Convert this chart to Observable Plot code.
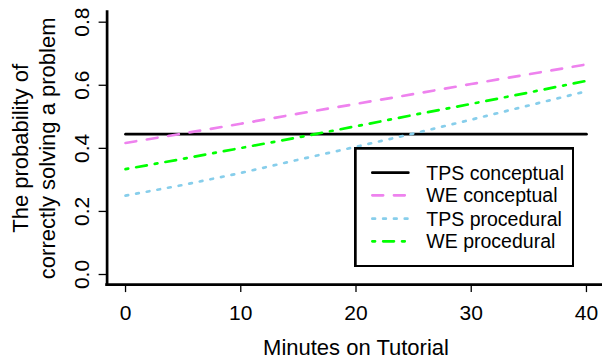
<!DOCTYPE html>
<html>
<head>
<meta charset="utf-8">
<script src="https://cdn.jsdelivr.net/npm/d3@7"></script>
<script src="https://cdn.jsdelivr.net/npm/@observablehq/plot@0.6"></script>
<style>
  html, body { margin: 0; padding: 0; background: #fff; }
  #wrap { position: relative; width: 602px; height: 360px; overflow: hidden; font-family: "Liberation Sans", Arial, sans-serif; }
  #legend { position: absolute; left: 353.65px; top: 146.65px; }
</style>
</head>
<body>
<div id="wrap"></div>
<script>
// ---- data ----
const minutes = [0, 5, 10, 15, 20, 25, 30, 35, 40];
const tpsConceptual = [0.445, 0.445, 0.445, 0.445, 0.445, 0.445, 0.445, 0.445, 0.445];
const weConceptual  = [0.417, 0.447, 0.478, 0.510, 0.541, 0.572, 0.604, 0.635, 0.666];
const tpsProcedural = [0.250, 0.284, 0.322, 0.364, 0.405, 0.447, 0.491, 0.536, 0.581];
const weProcedural  = [0.334, 0.367, 0.401, 0.435, 0.470, 0.506, 0.541, 0.577, 0.614];
const seriesNames = ["TPS conceptual", "WE conceptual", "TPS procedural", "WE procedural"];
const xTicks = [0, 10, 20, 30, 40];
const yTicks = [0, 0.2, 0.4, 0.6, 0.8];
const yTickLabels = ["0.0", "0.2", "0.4", "0.6", "0.8"];
const xLabel = "Minutes on Tutorial";
const yLabel = "The probability of\ncorrectly solving a problem";

// ---- styles (R lty patterns scaled by line width) ----
const LW = 2.7;
const styles = [
  {stroke: "black",   dash: null},
  {stroke: "violet",  dash: `${LW * 4} ${LW * 4}`},
  {stroke: "skyblue", dash: `${LW * 1} ${LW * 3}`},
  {stroke: "#00ff00", dash: `${LW * 1} ${LW * 3} ${LW * 4} ${LW * 3}`}
];
const seriesValues = [tpsConceptual, weConceptual, tpsProcedural, weProcedural];

const tables = seriesValues.map((vals, i) =>
  minutes.map((m, j) => ({series: seriesNames[i], minute: m, p: vals[j]})));

const xDomain = [-1.6, 41.6];
const yDomain = [-0.032, 0.832];
const FONT = "'Liberation Sans', Arial, sans-serif";

const lineMarks = tables.map((t, i) => Plot.line(t, {
  x: "minute", y: "p",
  stroke: styles[i].stroke,
  strokeWidth: LW,
  strokeLinecap: "round",
  strokeLinejoin: "round",
  strokeDasharray: styles[i].dash || undefined
}));

const chart = Plot.plot({
  width: 602,
  height: 360,
  marginLeft: 106.6,
  marginRight: -2.4,
  marginTop: 11.6,
  marginBottom: 75.9,
  x: {domain: xDomain, range: [106.6, 604.4]},
  y: {domain: yDomain, range: [284.1, 11.6]},
  style: {fontFamily: FONT, background: "white", color: "black", overflow: "visible"},
  marks: [
    Plot.axisX({ticks: xTicks, tickSize: 8, tickPadding: 12.4, fontSize: 21, strokeWidth: 1.3, label: null, tickFormat: d => String(d)}),
    Plot.axisY({ticks: yTicks, tickSize: 8, tickPadding: 10.6, tickRotate: -90, fontSize: 21, strokeWidth: 1.3, label: null,
      tickFormat: d => yTickLabels[yTicks.indexOf(d)]}),
    ...lineMarks,
    Plot.ruleX([xDomain[0]], {stroke: "black", strokeWidth: LW, strokeLinecap: "square"}),
    Plot.ruleY([yDomain[0]], {stroke: "black", strokeWidth: LW, strokeLinecap: "square"}),
    Plot.text([xLabel], {frameAnchor: "bottom", text: d => d, dy: 70.2, textAnchor: "middle", lineAnchor: "bottom", fontSize: 22, fill: "black"}),
    Plot.text([yLabel], {frameAnchor: "left", text: d => d, dx: -74, rotate: -90, textAnchor: "middle", lineAnchor: "middle", lineHeight: 1.23, fontSize: 22, fill: "black"})
  ]
});

const wrap = document.getElementById("wrap");
wrap.appendChild(chart);

// ---- legend (R-style box, bottom right) ----
const LWd = 220.7, LHt = 120.7;
const leg = d3.select(wrap).append("svg")
  .attr("id", "legend")
  .attr("width", LWd).attr("height", LHt)
  .style("font-family", FONT);
leg.append("rect")
  .attr("x", LW / 2).attr("y", LW / 2)
  .attr("width", LWd - LW).attr("height", LHt - LW)
  .attr("fill", "white").attr("stroke", "black").attr("stroke-width", LW);
const rowY = [25.65, 48.35, 71.65, 94.35];
seriesNames.forEach((name, i) => {
  leg.append("line")
    .attr("x1", 18.35).attr("x2", 54.35)
    .attr("y1", rowY[i]).attr("y2", rowY[i])
    .attr("stroke", styles[i].stroke).attr("stroke-width", LW)
    .attr("stroke-linecap", "round")
    .attr("stroke-dasharray", styles[i].dash);
  leg.append("text")
    .attr("x", 72.35).attr("y", rowY[i]).attr("dy", "0.36em")
    .attr("font-size", 19.5).attr("fill", "black")
    .text(name);
});
</script>
</body>
</html>
